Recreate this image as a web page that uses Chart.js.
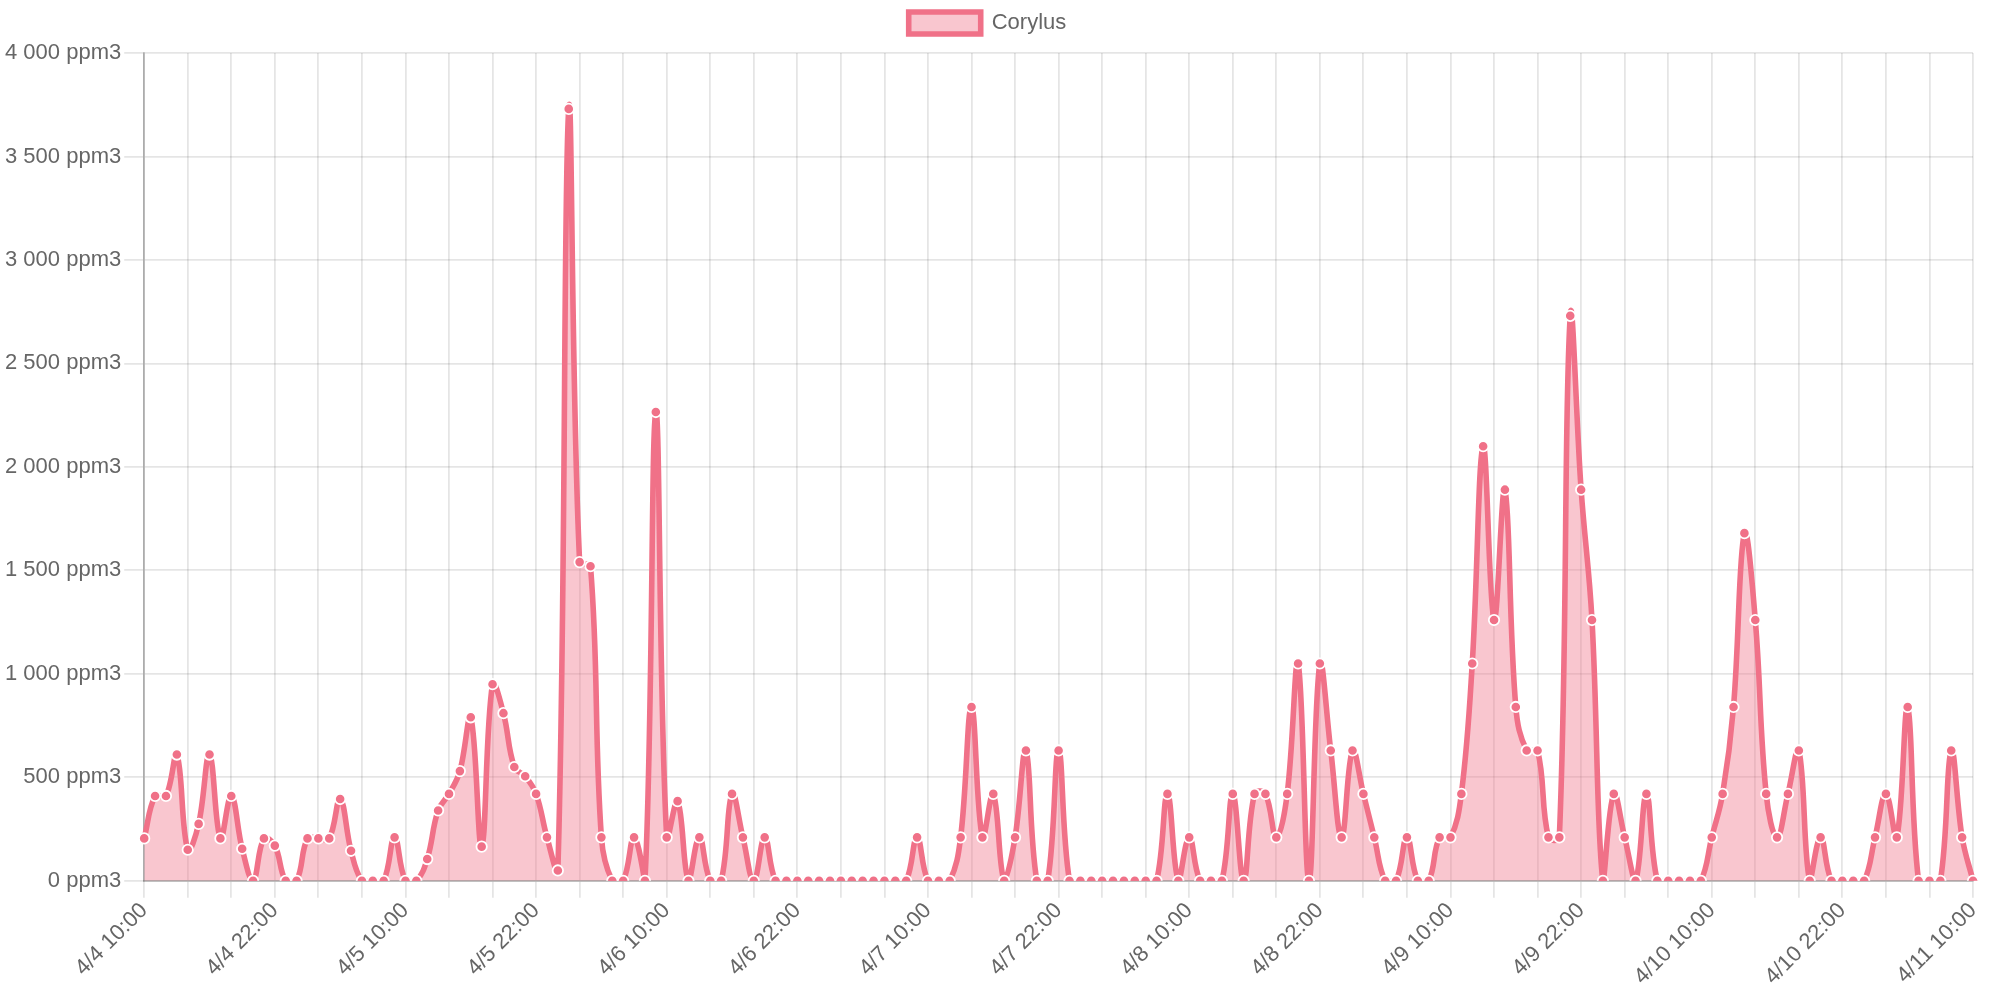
<!DOCTYPE html>
<html>
<head>
<meta charset="utf-8">
<script src="https://cdn.jsdelivr.net/npm/chart.js@4"></script>
<style>
    body { margin: 0; background: #fff; }
    #wrap { width: 1999px; height: 990px; }
</style>
</head>
<body>
<div id="wrap"><canvas id="myChart"></canvas></div>
<script>
// hourly readings, 4/4 10:00 -> 4/11 10:00
const seriesName = 'Corylus';
const days = ['4/4', '4/5', '4/6', '4/7', '4/8', '4/9', '4/10', '4/11'];
const firstHour = 10;

const corylus = [
    205, 410, 410, 610, 150, 275, 610, 205, 410, 155, 0, 205,
    170, 0, 0, 205, 205, 205, 395, 145, 0, 0, 0, 210,
    0, 0, 105, 340, 420, 530, 790, 165, 950, 810, 550, 505,
    420, 210, 50, 3730, 1540, 1520, 210, 0, 0, 210, 0, 2265,
    210, 385, 0, 210, 0, 0, 420, 210, 0, 210, 0, 0,
    0, 0, 0, 0, 0, 0, 0, 0, 0, 0, 0, 210,
    0, 0, 0, 210, 840, 210, 420, 0, 210, 630, 0, 0,
    630, 0, 0, 0, 0, 0, 0, 0, 0, 0, 420, 0,
    210, 0, 0, 0, 420, 0, 420, 420, 210, 420, 1050, 0,
    1050, 630, 210, 630, 420, 210, 0, 0, 210, 0, 0, 210,
    210, 420, 1050, 2100, 1260, 1890, 840, 630, 630, 210, 210, 2730,
    1890, 1260, 0, 420, 210, 0, 420, 0, 0, 0, 0, 0,
    210, 420, 840, 1680, 1260, 420, 210, 420, 630, 0, 210, 0,
    0, 0, 0, 210, 420, 210, 840, 0, 0, 0, 630, 210,
    0
];

const yMin = 0, yMax = 4000, yStep = 500;

const labels = [];
for (let i = 0; i < corylus.length; i++) {
    const h = firstHour + i;
    labels.push(days[Math.floor(h / 24)] + ' ' + (h % 24) + ':00');
}

const lineColor = 'rgb(240, 113, 136)';
const fillColor = 'rgba(240, 113, 136, 0.4)';
const gridColor = 'rgba(0, 0, 0, 0.1)';

Chart.defaults.font.family = "'Helvetica Neue', Helvetica, Arial, 'Liberation Sans', sans-serif";
Chart.defaults.font.size = 22;
Chart.defaults.color = '#666';

function ppm(value) {
    return String(value).replace(/\B(?=(\d{3})+(?!\d))/g, ' ') + ' ppm3';
}

// a bit of room between legend and plot
const legendGap = {
    id: 'legendGap',
    beforeInit(chart) {
        const fit = chart.legend.fit;
        chart.legend.fit = function () {
            fit.bind(chart.legend)();
            this.height += 9;
        };
    }
};

const ctx = document.getElementById('myChart');

new Chart(ctx, {
    type: 'line',
    data: {
        labels: labels,
        datasets: [{
            label: seriesName,
            data: corylus,
            borderColor: lineColor,
            backgroundColor: fillColor,
            borderWidth: 5.6,
            fill: true,
            tension: 0.4,
            pointRadius: 5.2,
            pointBorderWidth: 1.8,
            pointBorderColor: '#fff',
            pointBackgroundColor: lineColor
        }]
    },
    options: {
        responsive: true,
        maintainAspectRatio: false,
        animation: false,
        layout: {
            padding: { top: 0, right: 26, left: 2, bottom: 0 }
        },
        plugins: {
            legend: {
                labels: {
                    boxWidth: 72,
                    boxHeight: 22,
                    padding: 12
                }
            },
            tooltip: { enabled: false }
        },
        scales: {
            x: {
                grid: {
                    color: c => c.index % 4 === 0 ? gridColor : 'transparent',
                    lineWidth: 1.8,
                    tickLength: 17
                },
                border: { color: 'rgba(0, 0, 0, 0.25)', width: 1.8 },
                ticks: {
                    autoSkip: false,
                    minRotation: 45,
                    maxRotation: 45,
                    padding: 0,
                    callback: (v, i) => i % 12 === 0 ? labels[i] : ''
                }
            },
            y: {
                min: yMin,
                max: yMax,
                grid: {
                    color: gridColor,
                    lineWidth: 1.8,
                    tickLength: 20
                },
                border: { color: 'rgba(0, 0, 0, 0.25)', width: 1.8 },
                ticks: {
                    stepSize: yStep,
                    padding: 3,
                    callback: v => ppm(v)
                }
            }
        }
    },
    plugins: [legendGap]
});
</script>
</body>
</html>
